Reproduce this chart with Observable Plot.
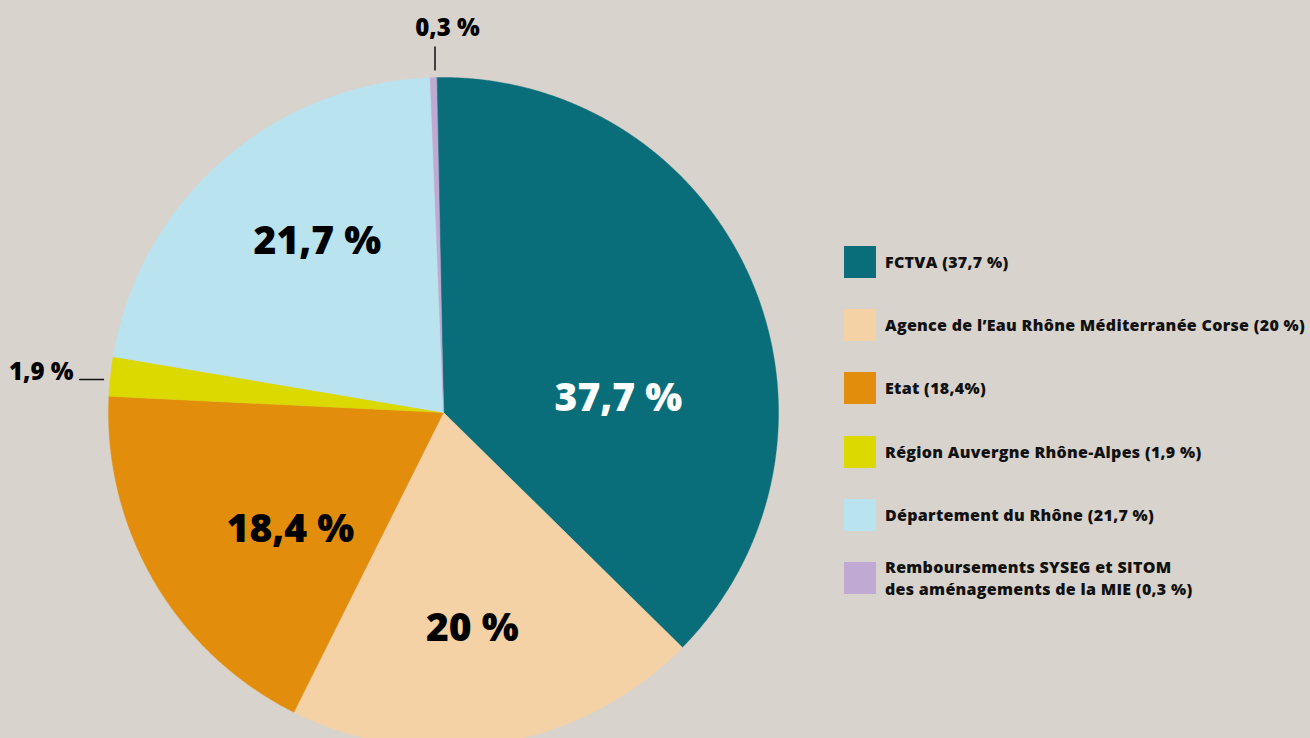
<!DOCTYPE html>
<html>
<head>
<meta charset="utf-8">
<script src="https://cdn.jsdelivr.net/npm/d3@7"></script>
<script src="https://cdn.jsdelivr.net/npm/@observablehq/plot@0.6"></script>
<style>
  html, body { margin: 0; padding: 0; background: #d8d3cd; }
  #wrap { position: relative; width: 1310px; height: 738px; overflow: hidden; background: #d8d3cd; font-family: "Open Sans", Lato, "DejaVu Sans", sans-serif; }
  #legend { position: absolute; left: 844px; top: 246px; }
  .item { position: absolute; left: 0; height: 32px; display: flex; align-items: center; white-space: nowrap; }
  .sw { width: 32px; height: 32px; flex: none; }
  .lab { margin-left: 9px; font-size: 16px; font-weight: 800; color: #111; line-height: 22px; letter-spacing: 0.3px; }
</style>
</head>
<body>
<div id="wrap"><div id="legend"></div></div>
<script>
// ---- data ----
const categories = [
  "FCTVA (37,7 %)",
  "Agence de l\u2019Eau Rhône Méditerranée Corse (20 %)",
  "Etat (18,4%)",
  "Région Auvergne Rhône-Alpes (1,9 %)",
  "Département du Rhône (21,7 %)",
  "Remboursements SYSEG et SITOM\ndes aménagements de la MIE (0,3 %)"
];
const values = [37.7, 20, 18.4, 1.9, 21.7, 0.3];
const sliceLabels = ["37,7 %", "20 %", "18,4 %", "1,9 %", "21,7 %", "0,3 %"];
const colors = ["#0a6e7a", "#f5d2a5", "#e28e0c", "#dbd900", "#bae3f0", "#c0a9d3"];

// ---- layout (pixels / polar placement of labels) ----
const W = 1310, H = 738, CX = 443, CY = 412, R = 335;
const startDeg = -1.2;
const FONT = "'Open Sans', Lato, 'DejaVu Sans', sans-serif";
const labelPlace = [ // [angle deg clockwise from top, radius fraction, anchor, color, size]
  [85.4, 0.524, "middle", "#ffffff", 39],
  [172.4, 0.651, "middle", "#000000", 39],
  [232.6, 0.575, "middle", "#000000", 39],
  [276.2, 1.111, "end", "#000000", 24],
  [323.6, 0.634, "middle", "#000000", 39],
  [0.6, 1.146, "middle", "#000000", 24]
];
const leaders = { 3: [[275.56, 1.018], [275.17, 1.0925]], 5: [[-1.42, 1.021], [-1.33, 1.093]] };

const rad = d => d * Math.PI / 180;
const polar = (aRad, r) => ({x: r * Math.sin(aRad), y: r * Math.cos(aRad)});

const arcs = d3.pie().sort(null).startAngle(rad(startDeg)).endAngle(rad(startDeg) + 2 * Math.PI)(values);

const polyPts = [];
arcs.forEach((a, i) => {
  polyPts.push({i, x: 0, y: 0});
  const n = Math.max(4, Math.ceil((a.endAngle - a.startAngle) / rad(0.25)));
  for (let k = 0; k <= n; k++) {
    const t = a.startAngle + (a.endAngle - a.startAngle) * k / n;
    const p = polar(t, 1);
    polyPts.push({i, x: p.x, y: p.y});
  }
});

const textData = arcs.map((a, i) => {
  const [ang, r, anchor, col, size] = labelPlace[i];
  const p = polar(rad(ang), r);
  return {i, x: p.x, y: p.y, text: sliceLabels[i], anchor, col, size};
});

const leaderData = Object.entries(leaders).map(([i, [p1, p2]]) => {
  const a = polar(rad(p1[0]), p1[1]), b = polar(rad(p2[0]), p2[1]);
  return {i: +i, x1: a.x, y1: a.y, x2: b.x, y2: b.y};
});

const textMark = (size, anchor, col) => Plot.text(
  textData.filter(d => d.size === size && d.anchor === anchor && d.col === col),
  {x: "x", y: "y", text: "text", fill: col, fontSize: size, fontWeight: 800,
   fontFamily: FONT, textAnchor: anchor, lineAnchor: "middle"}
);

const chart = Plot.plot({
  width: W, height: H,
  margin: 0,
  style: {background: "transparent", overflow: "visible"},
  x: {domain: [-CX / R, (W - CX) / R], axis: null},
  y: {domain: [-(H - CY) / R, CY / R], axis: null},
  color: {type: "ordinal", domain: d3.range(categories.length), range: colors},
  marks: [
    Plot.line(polyPts, {x: "x", y: "y", z: "i", fill: "i", stroke: "i", strokeWidth: 0.4, curve: "linear-closed"}),
    Plot.link(leaderData, {x1: "x1", y1: "y1", x2: "x2", y2: "y2", stroke: "#111", strokeWidth: 1.5}),
    textMark(39, "middle", "#ffffff"),
    textMark(39, "middle", "#000000"),
    textMark(24, "middle", "#000000"),
    textMark(24, "end", "#000000")
  ]
});
chart.style.position = "absolute";
chart.style.left = "0px";
chart.style.top = "0px";
document.getElementById("wrap").prepend(chart);

// ---- legend ----
const legend = document.getElementById("legend");
const tops = [0, 63, 126, 190, 253, 316];
categories.forEach((c, i) => {
  const it = document.createElement("div");
  it.className = "item";
  it.style.top = tops[i] + "px";
  const sw = document.createElement("div");
  sw.className = "sw";
  sw.style.background = colors[i];
  const lab = document.createElement("div");
  lab.className = "lab";
  lab.innerHTML = c.split("\n").join("<br>");
  it.appendChild(sw); it.appendChild(lab);
  legend.appendChild(it);
});
</script>
</body>
</html>
